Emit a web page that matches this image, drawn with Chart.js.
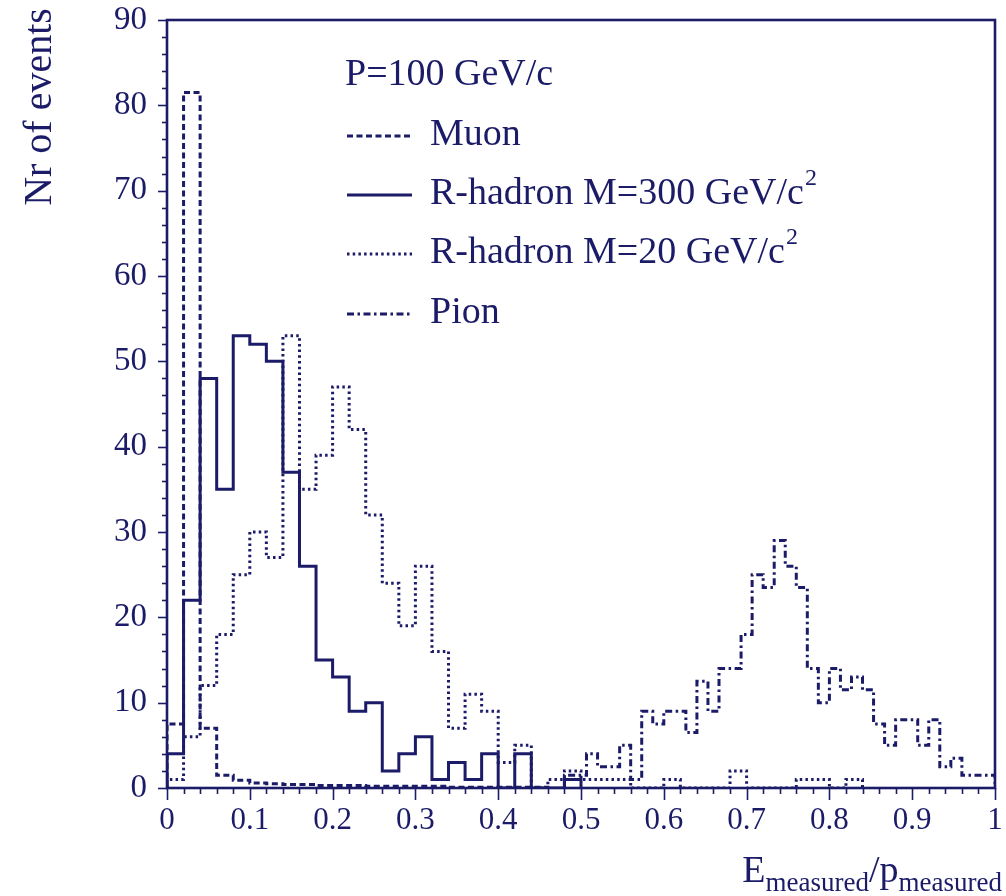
<!DOCTYPE html>
<html>
<head>
<meta charset="utf-8">
<script src="https://cdn.jsdelivr.net/npm/chart.js@4.4.1/dist/chart.umd.min.js"></script>
<style>
  html, body { margin: 0; padding: 0; background: #ffffff; }
  #wrap { width: 1006px; height: 896px; }
</style>
</head>
<body>
<div id="wrap"><canvas id="chart" width="1006" height="896"></canvas></div>
<script>
// Histogram bin widths on the E/p axis
const BIN_WIDTH = 0.02;
const PION_BIN_WIDTH = 1 / 75;

// Event counts per bin, starting at E/p = 0
const muonCounts = [7.5, 81.5, 7, 1.5, 0.9, 0.6, 0.5, 0.4, 0.4, 0.3, 0.3, 0.3, 0.2, 0.2, 0.2, 0.2, 0.2,
  0.1, 0.1, 0.1, 0.1, 0.1, 0.1];
const rHadron300Counts = [4, 22, 48, 35, 53, 52, 50, 37, 26, 15, 13, 9, 10, 2, 4, 6, 1, 3, 1, 4, 0, 4,
  0, 0, 1];
const rHadron20Counts = [1, 6, 12, 18, 25, 30, 27, 53, 35, 39, 47, 42, 32, 24, 19, 26, 16, 7, 11, 9, 3, 5,
  0, 1, 2, 1, 1, 1, 0, 0, 1, 0, 0, 0, 2, 0, 0, 0, 1, 1, 0, 1];
const pionCounts = [0, 0, 0, 0, 0, 0, 0, 0, 0, 0, 0, 0, 0, 0, 0, 0, 0, 0, 0, 0, 0, 0, 0, 0, 0, 0, 0, 0,
  0, 0, 0, 0, 0, 0, 0, 0,
  1.5, 1.5, 4, 2.5, 2.5, 5, 1, 9, 7.5, 9, 9, 6.5, 12.5, 9, 14, 14, 18, 25, 23.5, 29, 26, 23.5, 14, 10,
  14, 11.5, 13, 11.5, 7.5, 5, 8, 8, 5, 8, 2.5, 3.5, 1.5, 1.5, 1.5];

const seriesNames = ['Muon', 'R-hadron M=300 GeV/c', 'R-hadron M=20 GeV/c', 'Pion'];
const seriesSuperscripts = ['', '2', '2', ''];
const headerText = 'P=100 GeV/c';

const xTickValues = [0, 0.1, 0.2, 0.3, 0.4, 0.5, 0.6, 0.7, 0.8, 0.9, 1];
const xTickLabels = ['0', '0.1', '0.2', '0.3', '0.4', '0.5', '0.6', '0.7', '0.8', '0.9', '1'];
const yTickValues = [0, 10, 20, 30, 40, 50, 60, 70, 80, 90];
const yTickLabels = ['0', '10', '20', '30', '40', '50', '60', '70', '80', '90'];

const INK = '#1b1b68';
const SERIF = '"Liberation Serif", "DejaVu Serif", serif';

// Outline of a histogram as step points: rise at the first filled bin, fall after the last.
function histogramOutline(counts, width) {
  let first = counts.findIndex(v => v !== 0);
  if (first < 0) first = 0;
  const pts = [{ x: first * width, y: 0 }];
  for (let i = first; i < counts.length; i++) pts.push({ x: i * width, y: counts[i] });
  pts.push({ x: counts.length * width, y: 0 });
  return pts;
}

function lineDataset(label, counts, width, dash) {
  return {
    label,
    data: histogramOutline(counts, width),
    borderColor: INK,
    borderWidth: 3,
    borderDash: dash,
    borderCapStyle: 'butt',
    stepped: true,
    pointRadius: 0,
    fill: false,
    tension: 0
  };
}

// Frame, tick marks, legend block and axis titles
const decorations = {
  id: 'decorations',
  beforeDatasetsDraw(chart) {
    const { ctx, chartArea: a, scales: { x, y } } = chart;
    ctx.save();
    ctx.strokeStyle = INK;
    ctx.lineWidth = 1.6;
    // x ticks: minor every bin, longer at labelled values
    for (let k = 0; k <= 50; k++) {
      const v = k * BIN_WIDTH;
      const px = Math.round(x.getPixelForValue(v)) + 0.5;
      const len = (k % 5 === 0) ? 12 : 6;
      ctx.beginPath(); ctx.moveTo(px, a.bottom); ctx.lineTo(px, a.bottom + len); ctx.stroke();
    }
    // y ticks: minor every 2 events, longer at labelled values
    for (let v = 0; v <= 90; v += 2) {
      const py = Math.round(y.getPixelForValue(v)) + 0.5;
      const len = (v % 10 === 0) ? 9 : 5;
      ctx.beginPath(); ctx.moveTo(a.left, py); ctx.lineTo(a.left - len, py); ctx.stroke();
    }
    ctx.lineWidth = 2.6;
    ctx.strokeRect(a.left, a.top, a.right - a.left, a.bottom - a.top);
    ctx.restore();
  },
  afterDraw(chart) {
    const { ctx } = chart;
    ctx.save();
    ctx.fillStyle = INK;
    ctx.strokeStyle = INK;
    ctx.textBaseline = 'alphabetic';

    // legend block
    const legendFont = '38px ' + SERIF;
    ctx.font = legendFont;
    ctx.fillText(headerText, 345, 85);
    const rows = [145, 204, 263, 323];
    chart.data.datasets.forEach((ds, i) => {
      const ly = rows[i] - 9;
      ctx.setLineDash(ds.borderDash || []);
      ctx.lineWidth = ds.borderWidth;
      ctx.beginPath(); ctx.moveTo(347, ly); ctx.lineTo(412, ly); ctx.stroke();
      ctx.setLineDash([]);
      ctx.font = legendFont;
      ctx.fillText(seriesNames[i], 430, rows[i]);
      if (seriesSuperscripts[i]) {
        const w = ctx.measureText(seriesNames[i]).width;
        ctx.font = '24px ' + SERIF;
        ctx.fillText(seriesSuperscripts[i], 430 + w + 1, rows[i] - 19);
      }
    });

    // y axis title
    ctx.save();
    ctx.translate(51, 107);
    ctx.rotate(-Math.PI / 2);
    ctx.font = '40px ' + SERIF;
    ctx.textAlign = 'center';
    ctx.fillText('Nr of events', 0, 0);
    ctx.restore();

    // x axis title with subscripts
    const mainFont = '38px ' + SERIF, subFont = '27px ' + SERIF;
    const parts = [['E', mainFont, 0], ['measured', subFont, 9], ['/p', mainFont, 0], ['measured', subFont, 9]];
    let total = 0;
    parts.forEach(p => { ctx.font = p[1]; total += ctx.measureText(p[0]).width; });
    let cx = 1002 - total;
    parts.forEach(p => {
      ctx.font = p[1];
      ctx.fillText(p[0], cx, 882 + p[2]);
      cx += ctx.measureText(p[0]).width;
    });
    ctx.restore();
  }
};

const datasets = [
  lineDataset(seriesNames[0], muonCounts, BIN_WIDTH, [6, 3.5]),
  lineDataset(seriesNames[1], rHadron300Counts, BIN_WIDTH, []),
  lineDataset(seriesNames[2], rHadron20Counts, BIN_WIDTH, [2.5, 3.2]),
  lineDataset(seriesNames[3], pionCounts, PION_BIN_WIDTH, [7, 3.5, 2.5, 3.5])
];

new Chart(document.getElementById('chart'), {
  type: 'line',
  data: { datasets },
  options: {
    responsive: false,
    animation: false,
    devicePixelRatio: 1,
    layout: { padding: { left: 0, right: 11, top: 20, bottom: 0 } },
    plugins: { legend: { display: false }, tooltip: { enabled: false } },
    scales: {
      x: {
        type: 'linear',
        min: 0,
        max: 1,
        afterBuildTicks: axis => { axis.ticks = xTickValues.map(v => ({ value: v })); },
        afterFit: axis => { axis.height = 108; axis.paddingLeft = 0; axis.paddingRight = 0; },
        grid: { display: false, drawTicks: false },
        border: { display: false },
        ticks: {
          color: INK,
          font: { family: SERIF, size: 31 },
          padding: 14,
          maxRotation: 0,
          autoSkip: false,
          callback: (v, i) => xTickLabels[i]
        }
      },
      y: {
        type: 'linear',
        min: 0,
        max: 90,
        afterBuildTicks: axis => { axis.ticks = yTickValues.map(v => ({ value: v })); },
        afterFit: axis => { axis.width = 167; axis.paddingTop = 0; axis.paddingBottom = 0; },
        grid: { display: false, drawTicks: false },
        border: { display: false },
        ticks: {
          color: INK,
          font: { family: SERIF, size: 33 },
          padding: 20,
          autoSkip: false,
          callback: (v, i) => yTickLabels[i]
        }
      }
    }
  },
  plugins: [decorations]
});
</script>
</body>
</html>
